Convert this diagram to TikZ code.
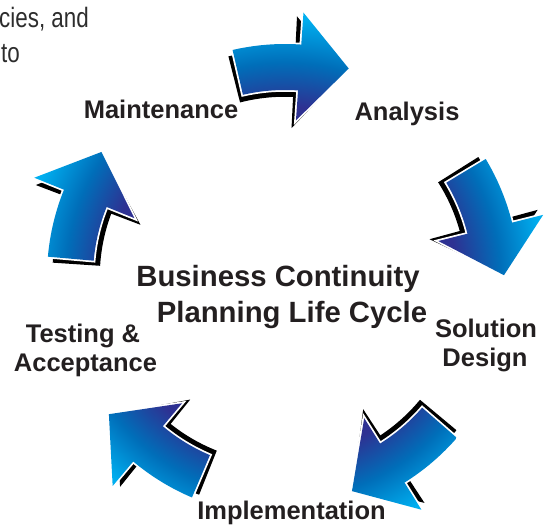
\documentclass[tikz,border=0pt]{standalone}
\usepackage{fontspec}
\setmainfont{Liberation Sans}
\newfontfamily\notefont[FakeStretch=0.8]{Liberation Sans}
\definecolor{dk}{RGB}{46,49,146}
\definecolor{md}{RGB}{0,110,185}
\definecolor{cy}{RGB}{0,174,239}
\definecolor{txt}{RGB}{35,31,32}
\definecolor{notetxt}{RGB}{45,45,45}
\pgfdeclareradialshading{ringshade}{\pgfpoint{0bp}{0bp}}{color(0bp)=(dk); color(15.5bp)=(dk); color(19.5bp)=(md); color(23.5bp)=(cy); color(50bp)=(cy)}
% #1 centre angle, #2 radial inset, #3 angle shift
\newcommand\arrowspec[3]{%
  ({#1+15+#3}:{233-#2}) arc[start angle={#1+15+#3}, end angle={#1-2+#3}, radius={233-#2}]
  -- ({#1-2+#3}:{265-#2}) -- ({#1-15+#3}:{218-#2}) -- ({#1-2+#3}:{157-#2}) -- ({#1-2+#3}:{187-#2})
  arc[start angle={#1-2+#3}, end angle={#1+15+#3}, radius={187-#2}] -- cycle}
% #1 centre angle, #2 #3 small shift
\newcommand\cyclearrow[3]{%
  \begin{scope}[shift={(#2,#3)}]
  \filldraw[black, line width=1.5, line join=miter] \arrowspec{#1}{6}{1.2};
  \draw[white, line width=3.5, line join=miter] \arrowspec{#1}{0}{0};
  \begin{scope}
    \clip \arrowspec{#1}{0}{0};
    \shade[shading=ringshade] (0,0) circle[radius=275];
  \end{scope}
  \end{scope}}
\tikzset{
  lbl/.style={text=txt, font=\bfseries\fontsize{25.5}{29}\selectfont, inner sep=0pt, anchor=base},
  ttl/.style={text=txt, font=\bfseries\fontsize{29.3}{34}\selectfont, inner sep=0pt, anchor=base},
  note/.style={text=notetxt, font=\notefont\fontsize{28}{32}\selectfont, inner sep=0pt, anchor=base west}
}
\begin{document}
\begin{tikzpicture}[x=1pt, y=1pt]
\useasboundingbox (0,0) rectangle (550,528);
\begin{scope}[shift={(285,251)}]
  \cyclearrow{88}{0}{0}
  \cyclearrow{16}{1}{-2}
  \cyclearrow{-56}{-4}{-8}
  \cyclearrow{-128}{-2}{-6}
  \cyclearrow{160}{-5}{0}
\end{scope}
\node[note] (n1) at (-1,500.7) {cies, and};
\node[note] (n2) at (1,465) {to};
\node[lbl] (maint) at (161,409) {Maintenance};
\node[lbl] (anal) at (407,407) {Analysis};
\node[ttl] (t1) at (278,241) {Business Continuity};
\node[ttl] (t2) at (292,205) {Planning Life Cycle};
\node[lbl] (test1) at (83,185) {Testing \&};
\node[lbl] (test2) at (85.5,156) {Acceptance};
\node[lbl] (sol1) at (486,190) {Solution};
\node[lbl] (sol2) at (485,161) {Design};
\node[lbl] (impl) at (291.5,8) {Implementation};
\end{tikzpicture}
\end{document}
